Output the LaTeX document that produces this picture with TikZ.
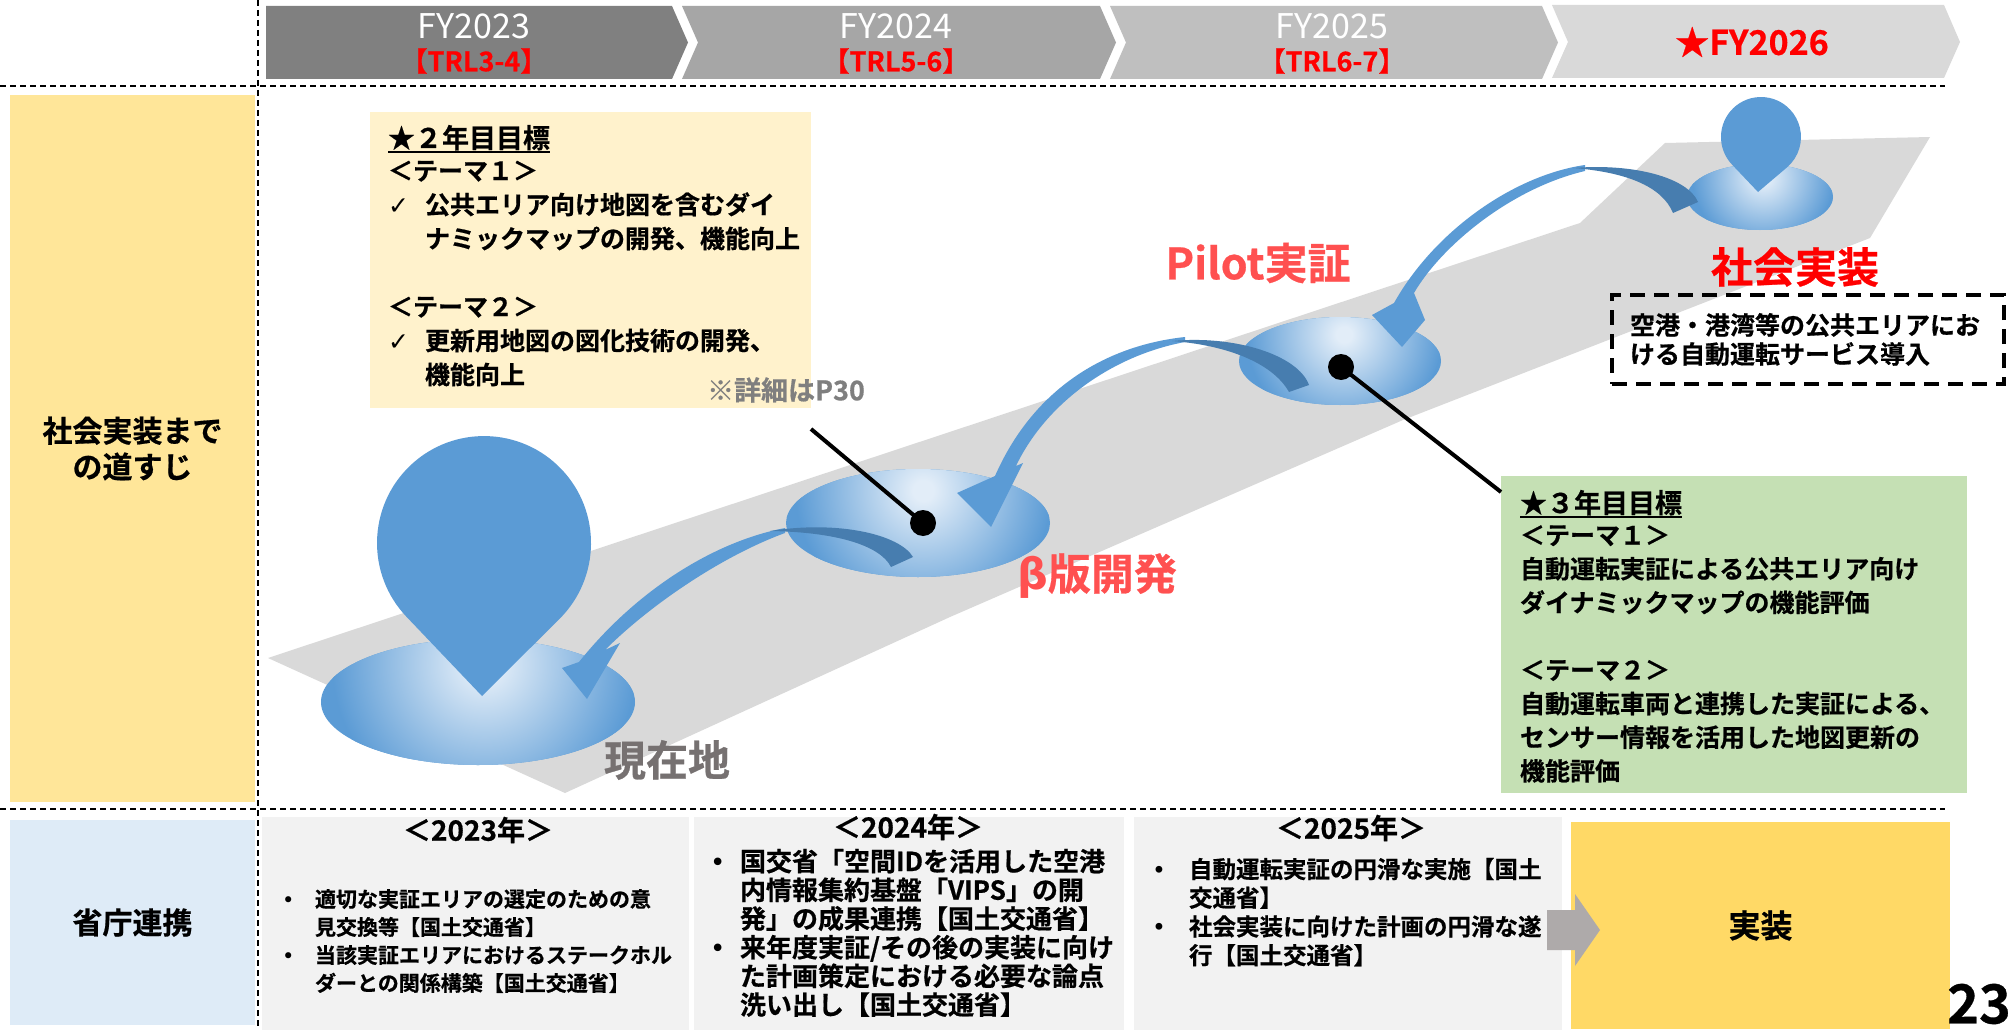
\documentclass[tikz,border=0pt]{standalone}
\usepackage{fontspec}
\setmainfont{Noto Sans CJK JP}[BoldFont={Noto Sans CJK JP Bold}, BoldFeatures={FakeBold=0.6}]
\newfontfamily\dejavu{DejaVu Sans}[BoldFont={DejaVu Sans Bold}]

% palette
\definecolor{chevA}{HTML}{808080}
\definecolor{chevB}{HTML}{A6A6A6}
\definecolor{chevC}{HTML}{BFBFBF}
\definecolor{chevD}{HTML}{D9D9D9}
\definecolor{roadgray}{HTML}{D9D9D9}
\definecolor{pinblue}{HTML}{5B9BD5}
\definecolor{pindark}{HTML}{477DAF}
\definecolor{spotin}{HTML}{E2EDF8}
\definecolor{spotout}{HTML}{5B9BD5}
\definecolor{goalyellow}{HTML}{FFF2CC}
\definecolor{goalgreen}{HTML}{C5E0B4}
\definecolor{sideyellow}{HTML}{FFE699}
\definecolor{sideblue}{HTML}{DEEBF7}
\definecolor{panelgray}{HTML}{F2F2F2}
\definecolor{implyellow}{HTML}{FFD966}
\definecolor{arrowgray}{HTML}{AEAAAA}
\definecolor{labelgray}{HTML}{767171}
\definecolor{notegray}{HTML}{7F7F7F}
\definecolor{stagered}{HTML}{FF5050}

% glow of the ground spots under the pins (25bp = radius of the shaded disc)
\pgfdeclareradialshading{spotglow}{\pgfpoint{0bp}{0bp}}{color(0bp)=(spotin); color(2bp)=(spotin); color(25bp)=(spotout); color(50bp)=(spotout)}

\newcommand\setfs[2]{\fontsize{#1}{#2}\selectfont}
\newcommand\ulbar[1]{\setbox0=\hbox{#1}\rlap{\rule[-5pt]{\wd0}{2pt}}\box0}
\newcommand\chk{\makebox[37pt][l]{\dejavu\mdseries ✓}}
\newcommand\bul[1]{\makebox[#1][l]{\dejavu\mdseries •}}

% ground spot: name, centre x, centre y, x radius, y radius
\newcommand\groundspot[5]{%
  \fill[spotout] (#2,#3) ellipse [x radius=#4, y radius=#5];
  \begin{scope}
    \clip (#2,#3) ellipse [x radius=#4, y radius=#5];
    \shade[shading=spotglow] (#2+0.04*#4,#3-0.6*#5) circle [radius=0.97*#4];
  \end{scope}
  \coordinate (#1) at (#2,#3);
}

% multi-line text nodes are anchored at the baseline of their last line
\tikzset{
  plain/.style={inner sep=0pt, outer sep=0pt},
  guide/.style={line width=1.5pt, dash pattern=on 6pt off 4pt},
  fytext/.style={plain, text=white, font=\setfs{34}{40}},
  trltext/.style={plain, text=red, font=\bfseries\setfs{27}{32}},
  sidebox/.style={plain, align=center, font=\bfseries\setfs{30}{36}},
  stagelbl/.style={plain, font=\bfseries\setfs{43}{50}},
  goaltitle/.style={plain, anchor=base west, font=\bfseries\setfs{27}{32}},
  goalbody/.style={plain, anchor=base west, align=left, font=\bfseries\setfs{25}{#1}},
  panelhead/.style={plain, font=\bfseries\setfs{28}{32}},
  panellist/.style 2 args={plain, anchor=base west, align=left, font=\bfseries\setfs{#1}{#2}},
  dot/.style={circle, fill=black, minimum size=26pt, inner sep=0pt},
  leader/.style={line width=4pt},
}

\begin{document}
\begin{tikzpicture}[x=1pt,y=-1pt]
\useasboundingbox (0,0) rectangle (2008,1030);
\fill[white] (0,0) rectangle (2008,1030);

% ---- year chevrons ----
\fill[chevA] (266,6) -- (672,6) -- (688,42.5) -- (672,79) -- (266,79) -- cycle;
\fill[chevB] (682,6) -- (1100,6) -- (1116,42.5) -- (1100,79) -- (682,79) -- (698,42.5) -- cycle;
\fill[chevC] (1110,6) -- (1542,6) -- (1558,42.5) -- (1542,79) -- (1110,79) -- (1126,42.5) -- cycle;
\fill[chevD] (1552,5) -- (1944,5) -- (1960,42) -- (1944,78) -- (1552,78) -- (1568,42) -- cycle;

\node[fytext] (fy23) at (474,26) {FY2023};
\node[trltext] (trl23) at (474,61) {【TRL3-4】};
\node[fytext] (fy24) at (896,26) {FY2024};
\node[trltext] (trl24) at (896,61) {【TRL5-6】};
\node[fytext] (fy25) at (1332,26) {FY2025};
\node[trltext] (trl25) at (1332,61) {【TRL6-7】};
\node[plain, text=red, font=\bfseries\setfs{34}{40}] (fy26) at (1752,42) {★FY2026};

% ---- dashed guides ----
\draw[guide] (0,86) -- (1945,86);
\draw[guide] (0,809) -- (1945,809);
\draw[guide] (258,0) -- (258,1030);

% ---- row headings ----
\node[sidebox, fill=sideyellow, minimum width=245pt, minimum height=707pt] (sideroad) at (132.5,448.5) {社会実装まで\\の道すじ};
\node[sidebox, fill=sideblue, minimum width=245pt, minimum height=205pt] (sidelink) at (132.5,922.5) {省庁連携};

% ---- road ----
\fill[roadgray] (268,658) -- (565,793) -- (950,617) -- (1403,420) -- (1870,238)
  -- (1930,137) -- (1665,143) -- (1580,223) -- cycle;

% ---- ground spots ----
\groundspot{spotnow}{478}{702}{157}{63}
\groundspot{spotbeta}{918}{523}{132}{54}
\groundspot{spotpilot}{1340}{361}{101}{44}
\groundspot{spotgoal}{1760}{197}{73}{33}

% ---- location pins ----
\fill[pinblue] (482,696) -- (406.6,616.9) arc[start angle=136.35, end angle=405.15, radius=107] -- cycle;
\fill[pinblue] (1758,192) -- (1732,164.6) arc[start angle=136.4, end angle=409.8, radius=40] -- cycle;

% ---- curved jump arrows ----
% beta -> current position
\fill[pinblue] (785,528) .. controls (712,542) and (635,592) .. (579,662) -- (562,668) -- (587,699)
  -- (620,643) -- (605,650) .. controls (650,605) and (722,556) .. (785,533) -- cycle;
\fill[pindark] (913,557) .. controls (900,535) and (840,520) .. (770,531)
  .. controls (835,532) and (880,545) .. (891,567) -- cycle;
% pilot -> beta
\fill[pinblue] (1185,337) .. controls (1110,345) and (1035,385) .. (995,476) -- (957,493) -- (991,527)
  -- (1023,463) -- (1016,466) .. controls (1045,405) and (1110,356) .. (1185,342) -- cycle;
\fill[pindark] (1309,385) .. controls (1298,355) and (1235,335) .. (1172,341)
  .. controls (1225,345) and (1272,362) .. (1289,392) -- cycle;
% deployment -> pilot
\fill[pinblue] (1585,165) .. controls (1515,175) and (1435,230) .. (1394,303) -- (1372,315) -- (1402,347)
  -- (1425,320) -- (1414,293) .. controls (1442,245) and (1512,188) .. (1585,171) -- cycle;
\fill[pindark] (1698,202) .. controls (1688,178) and (1635,163) .. (1573,168)
  .. controls (1625,172) and (1662,186) .. (1673,213) -- cycle;

% ---- goal boxes ----
\fill[goalyellow] (370,112) rectangle (811,408);
\node[goaltitle] (g2title) at (388,148) {\ulbar{★２年目目標}};
\node[goalbody=34] (g2body) at (388,384) {＜テーマ１＞\\
\chk 公共エリア向け地図を含むダイ\\
\hspace*{37pt}ナミックマップの開発、機能向上\\[34pt]
＜テーマ２＞\\
\chk 更新用地図の図化技術の開発、\\
\hspace*{37pt}機能向上};

\fill[goalgreen] (1501,476) rectangle (1967,793);
\node[goaltitle] (g3title) at (1520,513) {\ulbar{★３年目目標}};
\node[goalbody=33.7] (g3body) at (1520,780.4) {＜テーマ１＞\\
自動運転実証による公共エリア向け\\
ダイナミックマップの機能評価\\[33.7pt]
＜テーマ２＞\\
自動運転車両と連携した実証による、\\
センサー情報を活用した地図更新の\\
機能評価};

% ---- leaders ----
\node[dot] (betadot) at (923,523) {};
\node[dot] (pilotdot) at (1341,367) {};
\coordinate (betaend) at (811,429);
\coordinate (pilotend) at (1501,492);
\draw[leader] (betadot.center) -- (betaend);
\draw[leader] (pilotdot.center) -- (pilotend);

% ---- stage labels ----
\node[stagelbl, text=labelgray, font=\bfseries\setfs{42}{50}] (nowlbl) at (667,760) {現在地};
\node[stagelbl, text=stagered] (betalbl) at (1097,576) {{\dejavu\bfseries β}版開発};
\node[stagelbl, text=stagered] (pilotlbl) at (1258,263) {Pilot実証};
\node[stagelbl, text=red, font=\bfseries\setfs{42}{50}] (goallbl) at (1795,267) {社会実装};
\node[plain, text=notegray, font=\bfseries\setfs{27}{32}] (detailnote) at (786,390) {※詳細はP30};

\node[draw, line width=4pt, dash pattern=on 15pt off 9pt, minimum width=392pt, minimum height=89pt,
  text width=356pt, inner xsep=18pt, inner ysep=0pt, align=left, font=\bfseries\setfs{25}{29}]
  (goalnote) at (1808,339.5) {空港・港湾等の公共エリアにお\\ける自動運転サービス導入};

% ---- ministry cooperation panels ----
\fill[panelgray] (262,817) rectangle (689,1030);
\fill[panelgray] (694,817) rectangle (1124,1030);
\fill[panelgray] (1134,817) rectangle (1562,1030);

\node[panelhead] (h23) at (478,830) {＜2023年＞};
\node[panellist={21}{28}] (l23) at (282,991) {\bul{33pt}適切な実証エリアの選定のための意\\
\hspace*{33pt}見交換等【国土交通省】\\
\bul{33pt}当該実証エリアにおけるステークホル\\
\hspace*{33pt}ダーとの関係構築【国土交通省】};

\node[panelhead] (h24) at (908,827) {＜2024年＞};
\node[panellist={26}{28.7}] (l24) at (710,1014.5) {\bul{30pt}国交省「空間IDを活用した空港\\
\hspace*{30pt}内情報集約基盤「VIPS」の開\\
\hspace*{30pt}発」の成果連携【国土交通省】\\
\bul{30pt}来年度実証/その後の実装に向け\\
\hspace*{30pt}た計画策定における必要な論点\\
\hspace*{30pt}洗い出し【国土交通省】};

\node[panelhead] (h25) at (1351,828) {＜2025年＞};
\node[panellist={23.5}{28.7}] (l25) at (1152,964.1) {\bul{37pt}自動運転実証の円滑な実施【国土\\
\hspace*{37pt}交通省】\\
\bul{37pt}社会実装に向けた計画の円滑な遂\\
\hspace*{37pt}行【国土交通省】};

\node[plain, fill=implyellow, minimum width=379pt, minimum height=207pt,
  font=\bfseries\setfs{32}{36}] (impl) at (1760.5,925.5) {実装};
\fill[arrowgray] (1547,910) -- (1575,910) -- (1575,894) -- (1600,930) -- (1575,966)
  -- (1575,950) -- (1547,950) -- cycle;

\node[plain, font=\bfseries\setfs{54}{60}] (pageno) at (1979,1004) {23};
\end{tikzpicture}
\end{document}
